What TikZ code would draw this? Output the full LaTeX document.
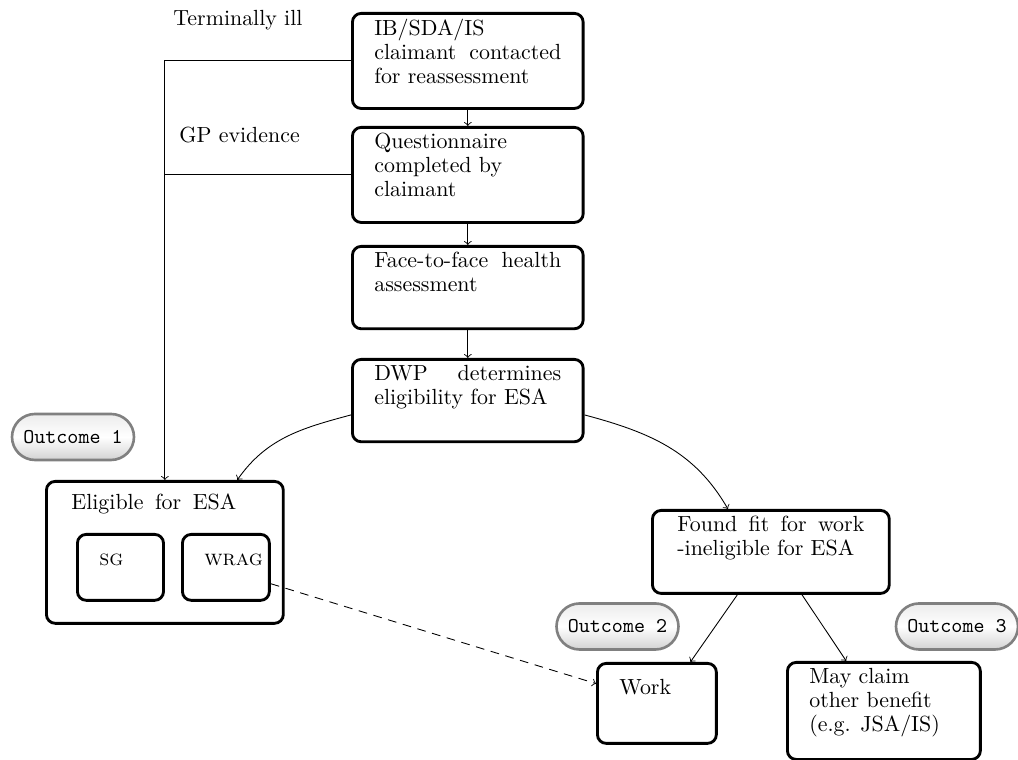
\documentclass[tikz,border=0pt]{standalone}
\usepackage{tikz}

% box contents: height, width, text (top aligned)
\newcommand{\boxtext}[3]{\parbox[t][#1][t]{#2}{\raggedright #3}}

\begin{document}
\begin{tikzpicture}[
    x=0.4566pt, y=0.4566pt,
    stage/.style={draw, line width=1.3pt, rounded corners=4pt, anchor=north west, inner xsep=10pt, inner ysep=2.5pt, font=\fontsize{10}{11}\selectfont},
    outcome/.style={draw=gray, line width=1.2pt, rounded corners=10.5pt, minimum width=55.7pt, minimum height=21pt, inner sep=0pt, top color=gray!15, bottom color=gray!35, middle color=white, font=\ttfamily\fontsize{9.6}{11}\selectfont},
    note/.style={anchor=base west, inner sep=0pt, font=\fontsize{10}{11}\selectfont},
    flow/.style={->}
]
\useasboundingbox (0,0) rectangle (1018,760);

% --- Main column ---
\node (contact) [stage] at (351,748) {\boxtext{38.4pt}{3cm}{IB/SDA/IS\\claimant\hfill contacted\\for reassessment}};
\node (quest) [stage] at (351,634) {\boxtext{38.4pt}{3cm}{Questionnaire\\completed by\\claimant}};
\node (f2f) [stage] at (351,515) {\boxtext{32.6pt}{3cm}{Face-to-face\hfill health\\assessment}};
\node (dwp) [stage] at (351,402) {\boxtext{32.6pt}{3cm}{DWP\hfill determines\\eligibility for ESA}};

% --- Side notes ---
\node (termill) [note] at (173,734) {Terminally ill};
\node (gpev) [note] at (179,617) {GP evidence};

% --- Outcome 1 ---
\node (elig) [stage, inner xsep=11.4pt] at (45,280) {\boxtext{59.8pt}{3cm}{\vspace{3.3pt}\makebox[75.3pt][s]{Eligible for ESA}}};
\node (sg) [stage] at (76,227) {\boxtext{25.1pt}{19.3pt}{\vspace{6.3pt}\textsc{sg}}};
\node (wrag) [stage] at (181,227) {\boxtext{25.1pt}{19.7pt}{\vspace{6.3pt}\textsc{wrag}}};

% --- Outcomes 2 and 3 ---
\node (found) [stage, inner xsep=11.4pt] at (651,251) {\boxtext{32.9pt}{3cm}{Found\hfill fit\hfill for\hfill work\\-ineligible for ESA}};
\node (work) [stage] at (596,98) {\boxtext{31.5pt}{34.3pt}{\vspace{4.8pt}Work}};
\node (other) [stage] at (786,99) {\boxtext{39.3pt}{68.1pt}{May claim\\other benefit\\(e.g. JSA/IS)}};

% --- Labels ---
\node (out1) [outcome] at (73,323) {Outcome 1};
\node (out2) [outcome] at (617.5,133.5) {Outcome 2};
\node (out3) [outcome] at (957,133.5) {Outcome 3};

% --- Connections ---
\draw [flow] (contact) -- (quest);
\draw [flow] (quest) -- (f2f);
\draw [flow] (f2f) -- (dwp);
\draw [flow] (contact.west) -| (elig.north);
\draw (quest.west) -- (quest.west -| elig.north);
\draw [flow] (dwp.187) to[out=195, in=55] (elig.45);
\draw [flow] (dwp.-7) to[out=-15, in=120] (found.135);
\draw [flow] (found.-128) -- (work.51);
\draw [flow] (found.-54) -- (other.127);
\draw [flow, dash pattern=on 4pt off 3pt] (wrag.-20) -- (work.162);

\end{tikzpicture}
\end{document}
